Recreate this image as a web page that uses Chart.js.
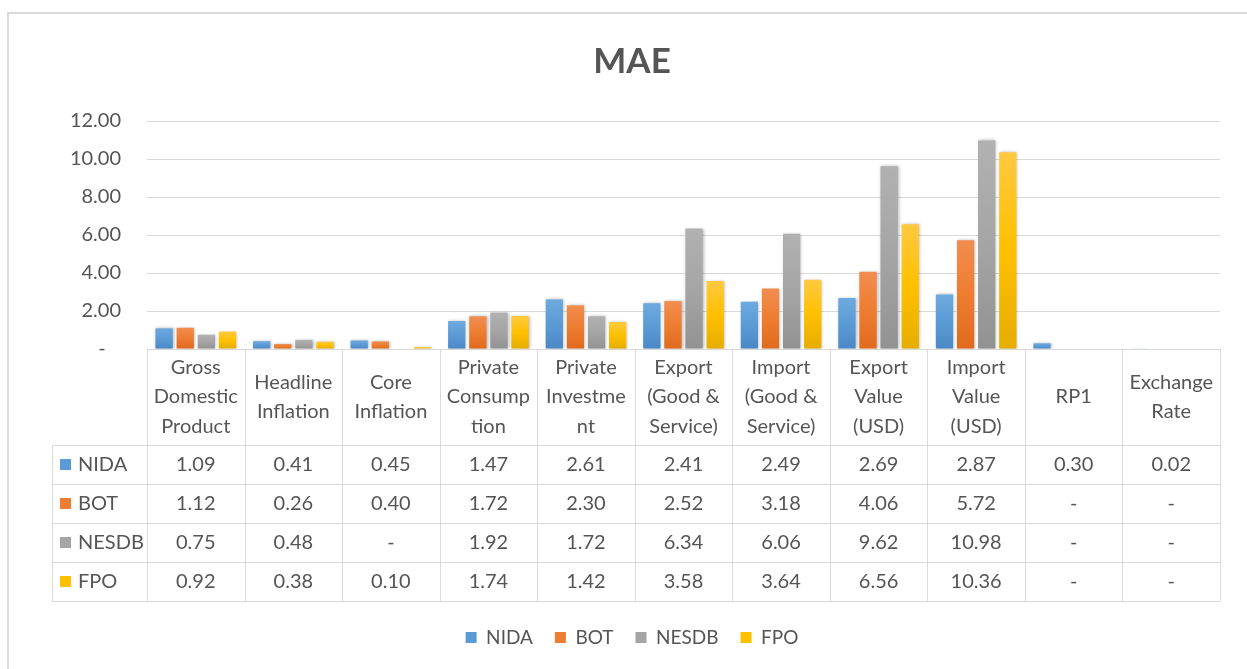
<!DOCTYPE html>
<html>
<head>
<meta charset="utf-8">
<title>MAE</title>
<script src="https://cdn.jsdelivr.net/npm/chart.js@4"></script>
<style>
  body { margin: 0; background: #fff; }
  canvas { display: block; }
</style>
</head>
<body>
<canvas id="chart" width="1247" height="669"></canvas>
<script>
const categories = [
  ["Gross", "Domestic", "Product"],
  ["Headline", "Inflation"],
  ["Core", "Inflation"],
  ["Private", "Consump", "tion"],
  ["Private", "Investme", "nt"],
  ["Export", "(Good &", "Service)"],
  ["Import", "(Good &", "Service)"],
  ["Export", "Value", "(USD)"],
  ["Import", "Value", "(USD)"],
  ["RP1"],
  ["Exchange", "Rate"]
];
const seriesNames = ["NIDA", "BOT", "NESDB", "FPO"];
const nida  = [1.09, 0.41, 0.45, 1.47, 2.61, 2.41, 2.49, 2.69, 2.87, 0.30, 0.02];
const bot   = [1.12, 0.26, 0.40, 1.72, 2.30, 2.52, 3.18, 4.06, 5.72, null, null];
const nesdb = [0.75, 0.48, null, 1.92, 1.72, 6.34, 6.06, 9.62, 10.98, null, null];
const fpo   = [0.92, 0.38, 0.10, 1.74, 1.42, 3.58, 3.64, 6.56, 10.36, null, null];
const yTicks = [0, 2, 4, 6, 8, 10, 12];

const TEXT = "#555555";
const LINE = "#d9d9d9";
const FONT = "Lato";
const baseColors = ["#5b9bd5", "#ed7d31", "#a5a5a5", "#ffc000"];
const lightColors = ["#6daadf", "#f28d4f", "#b1b1b1", "#ffc940"];
const darkColors = ["#4a88c6", "#e06a1e", "#929292", "#e6ad00"];

// table geometry (below the plot area)
const HEADER_H = 96;
const ROW_H = 39;
const KEY_COL = 95;

// each bar gets its own top-to-bottom gradient, like the Excel fill
function barFill(i) {
  return (c) => {
    const chart = c.chart;
    const y = chart.scales.y;
    if (c.type !== "data" || !y || c.raw == null) return baseColors[i];
    const top = y.getPixelForValue(c.raw);
    const bottom = y.getPixelForValue(0);
    if (!isFinite(top) || bottom - top < 1) return baseColors[i];
    const g = chart.ctx.createLinearGradient(0, top, 0, bottom);
    g.addColorStop(0, lightColors[i]);
    g.addColorStop(0.5, baseColors[i]);
    g.addColorStop(1, darkColors[i]);
    return g;
  };
}

const frame = {
  id: "frame",
  beforeDraw(chart) {
    const ctx = chart.ctx;
    ctx.save();
    ctx.strokeStyle = LINE;
    ctx.lineWidth = 2;
    ctx.beginPath();
    ctx.moveTo(8, chart.height + 5);
    ctx.lineTo(8, 13);
    ctx.lineTo(chart.width + 5, 13);
    ctx.stroke();
    ctx.restore();
  }
};

const shadow = {
  id: "shadow",
  beforeDatasetsDraw(chart) {
    const ctx = chart.ctx;
    ctx.save();
    ctx.shadowColor = "rgba(0,0,0,0.28)";
    ctx.shadowBlur = 3;
    ctx.shadowOffsetX = 1;
    ctx.shadowOffsetY = 0;
  },
  afterDatasetsDraw(chart) {
    chart.ctx.restore();
  }
};

const dataTable = {
  id: "dataTable",
  afterDraw(chart) {
    const { ctx, chartArea: a, data } = chart;
    const n = data.labels.length;
    const colW = (a.right - a.left) / n;
    const top = Math.round(a.bottom);
    const headBottom = top + HEADER_H;
    const bottom = headBottom + ROW_H * data.datasets.length;
    const keyLeft = Math.round(a.left - KEY_COL);
    const px = (v) => Math.round(v) + 0.5;

    ctx.save();
    ctx.strokeStyle = LINE;
    ctx.lineWidth = 1;
    ctx.beginPath();
    ctx.moveTo(a.left, px(top));
    ctx.lineTo(a.right, px(top));
    for (let r = 0; r <= data.datasets.length; r++) {
      const y = px(headBottom + r * ROW_H);
      ctx.moveTo(keyLeft, y);
      ctx.lineTo(a.right, y);
    }
    for (let i = 0; i <= n; i++) {
      const x = px(a.left + i * colW);
      ctx.moveTo(x, top);
      ctx.lineTo(x, bottom);
    }
    ctx.moveTo(px(keyLeft), headBottom);
    ctx.lineTo(px(keyLeft), bottom);
    ctx.stroke();

    ctx.fillStyle = TEXT;
    ctx.font = "20px " + FONT;
    ctx.textAlign = "center";
    ctx.textBaseline = "middle";
    const lh = 29.5;
    data.labels.forEach((lab, i) => {
      const lines = Array.isArray(lab) ? lab : [lab];
      const cx = a.left + (i + 0.5) * colW;
      const cy = top + HEADER_H / 2;
      lines.forEach((t, k) => {
        ctx.fillText(t, cx, cy + (k - (lines.length - 1) / 2) * lh);
      });
    });

    data.datasets.forEach((ds, r) => {
      const cy = headBottom + (r + 0.5) * ROW_H;
      ctx.fillStyle = baseColors[r];
      ctx.fillRect(keyLeft + 8, Math.round(cy - 5.5), 11, 11);
      ctx.fillStyle = TEXT;
      ctx.textAlign = "left";
      ctx.fillText(ds.label, keyLeft + 26, cy);
      ctx.textAlign = "center";
      ds.data.forEach((v, i) => {
        const cx = a.left + (i + 0.5) * colW;
        ctx.fillText(v == null ? "-" : v.toFixed(2), cx, cy);
      });
    });
    ctx.restore();
  }
};

const seriesData = [nida, bot, nesdb, fpo];

new Chart(document.getElementById("chart"), {
  type: "bar",
  data: {
    labels: categories,
    datasets: seriesNames.map((name, i) => ({
      label: name,
      data: seriesData[i],
      backgroundColor: barFill(i),
      borderWidth: 0,
      categoryPercentage: 0.866,
      barPercentage: 0.82
    }))
  },
  options: {
    responsive: false,
    animation: false,
    layout: { padding: { left: 44, right: 27, top: 0, bottom: 12 } },
    scales: {
      x: {
        grid: { display: false },
        border: { display: false },
        ticks: { display: false },
        afterFit: (s) => { s.height = 257; }
      },
      y: {
        min: 0,
        max: 12,
        afterBuildTicks: (s) => { s.ticks = yTicks.map((v) => ({ value: v })); },
        afterFit: (s) => { s.width = 103; },
        grid: { color: LINE, drawTicks: false, lineWidth: 1 },
        border: { display: false },
        ticks: {
          padding: 26,
          color: TEXT,
          font: { family: FONT, size: 20 },
          callback: (v) => (v === 0 ? "-   " : Number(v).toFixed(2))
        }
      }
    },
    plugins: {
      title: {
        display: true,
        text: "MAE",
        color: TEXT,
        font: { family: FONT, size: 35, weight: "bold" },
        padding: { top: 41, bottom: 38 }
      },
      legend: {
        position: "bottom",
        labels: {
          color: TEXT,
          font: { family: FONT, size: 19 },
          boxWidth: 11,
          boxHeight: 11,
          padding: 22,
          generateLabels: (chart) => chart.data.datasets.map((ds, i) => ({
            text: ds.label,
            fillStyle: baseColors[i],
            strokeStyle: baseColors[i],
            lineWidth: 0,
            fontColor: TEXT,
            datasetIndex: i
          }))
        }
      },
      tooltip: { enabled: false }
    }
  },
  plugins: [frame, shadow, dataTable]
});
</script>
</body>
</html>
